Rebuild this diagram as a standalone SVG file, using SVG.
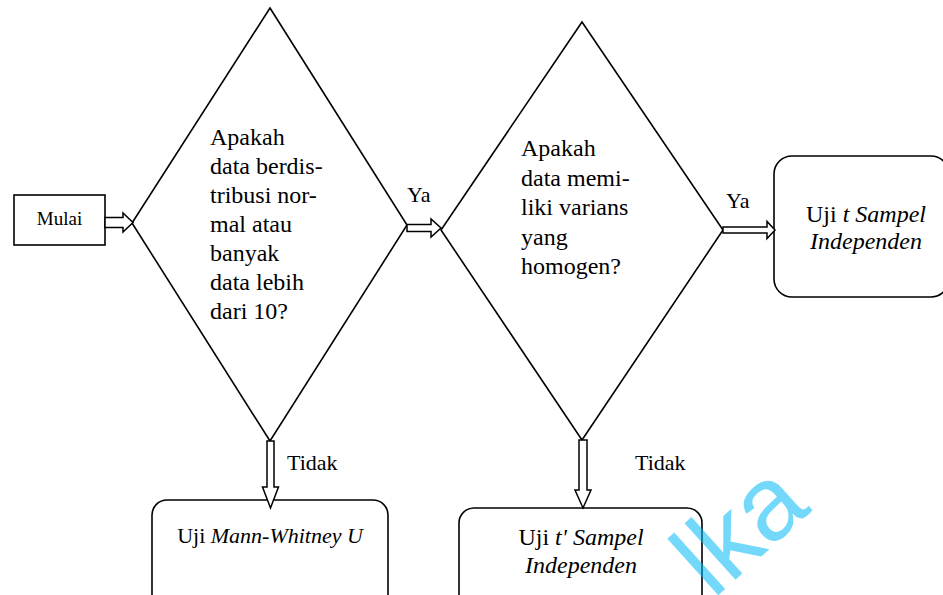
<svg xmlns="http://www.w3.org/2000/svg" width="943" height="595" viewBox="0 0 943 595">
<defs>
<style>
.shape{fill:#fff;stroke:#000;stroke-width:1.6}
.arr{fill:#fff;stroke:#000;stroke-width:1.5}
</style>
</defs>
<rect width="943" height="595" fill="#fff"/>
<g id="start">
<rect class="shape" x="14" y="195" width="91" height="50"/>
<text font-family="Times New Roman" font-size="19" x="59.5" y="225" text-anchor="middle">Mulai</text>
</g>
<g id="decision1">
<polygon class="shape" points="270,8 407,225 270,441 132,223"/>
<text font-family="Times New Roman" font-size="24" x="210" y="145">Apakah</text>
<text font-family="Times New Roman" font-size="24" x="210" y="174">data berdis-</text>
<text font-family="Times New Roman" font-size="24" x="210" y="203">tribusi nor-</text>
<text font-family="Times New Roman" font-size="24" x="210" y="232">mal atau</text>
<text font-family="Times New Roman" font-size="24" x="210" y="261">banyak</text>
<text font-family="Times New Roman" font-size="24" x="210" y="290">data lebih</text>
<text font-family="Times New Roman" font-size="24" x="210" y="319">dari 10?</text>
</g>
<g id="decision2">
<polygon class="shape" points="582,22 723,230 582,440 441,230"/>
<text font-family="Times New Roman" font-size="24" x="521" y="156">Apakah</text>
<text font-family="Times New Roman" font-size="24" x="521" y="185.5">data memi-</text>
<text font-family="Times New Roman" font-size="24" x="521" y="215">liki varians</text>
<text font-family="Times New Roman" font-size="24" x="521" y="244.5">yang</text>
<text font-family="Times New Roman" font-size="24" x="521" y="274">homogen?</text>
</g>
<g id="result-t">
<rect class="shape" x="774" y="156" width="175" height="141" rx="18"/>
<text font-family="Times New Roman" font-size="24" x="866" y="222" text-anchor="middle">Uji <tspan font-style="italic">t Sampel</tspan></text>
<text font-family="Times New Roman" font-size="24" font-style="italic" x="866" y="249" text-anchor="middle">Independen</text>
</g>
<g id="result-mann">
<rect class="shape" x="152" y="500" width="236" height="115" rx="15"/>
<text font-family="Times New Roman" font-size="22" x="270" y="543" text-anchor="middle">Uji <tspan font-style="italic">Mann-Whitney U</tspan></text>
</g>
<g id="result-tprime">
<rect class="shape" x="459" y="508" width="243" height="110" rx="15"/>
<text font-family="Times New Roman" font-size="24" x="581" y="545" text-anchor="middle">Uji <tspan font-style="italic">t' Sampel</tspan></text>
<text font-family="Times New Roman" font-size="24" font-style="italic" x="581" y="573" text-anchor="middle">Independen</text>
</g>
<g id="connectors">
<path class="arr" d="M105,217.5 H123 V213 L133,222.5 L123,232 V227.5 H105 Z"/>
<path class="arr" d="M407,224.5 H431 V219 L441,228 L431,237 V231.5 H407 Z"/>
<path class="arr" d="M723,227 H767 V221.5 L775,230 L767,238.5 V233 H723 Z"/>
<path class="arr" d="M267,441 V487 H262.5 L270.5,508 L278.5,487 H274 V441 Z"/>
<path class="arr" d="M579,440 V490 H575 L583,508 L591,490 H587 V440 Z"/>
<text font-family="Times New Roman" font-size="22" x="407" y="202">Ya</text>
<text font-family="Times New Roman" font-size="22" x="726" y="208">Ya</text>
<text font-family="Times New Roman" font-size="22" x="287" y="470">Tidak</text>
<text font-family="Times New Roman" font-size="22" x="635" y="470">Tidak</text>
</g>
<text font-family="Liberation Sans" font-size="105" fill="#00b8f5" fill-opacity="0.55" transform="translate(713,600) rotate(-42)">lka</text>
</svg>
